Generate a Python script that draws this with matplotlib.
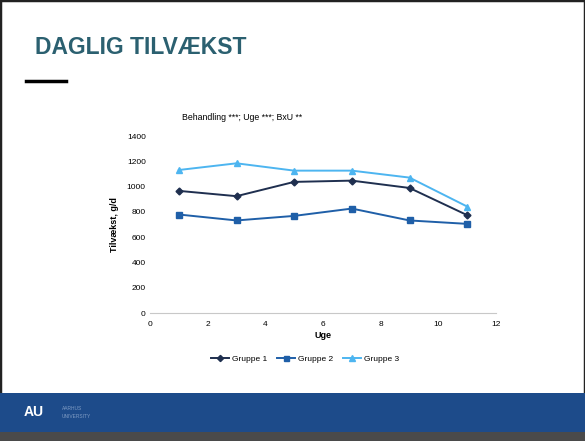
import matplotlib.pyplot as plt
from matplotlib.patches import Rectangle
from matplotlib.lines import Line2D

# data
uge = [1, 3, 5, 7, 9, 11]
gruppe1 = [966, 924, 1037, 1047, 989, 774]
gruppe2 = [779, 732, 768, 826, 732, 705]
gruppe3 = [1131, 1184, 1126, 1126, 1071, 842]
series_labels = ["Gruppe 1", "Gruppe 2", "Gruppe 3"]
x_ticks = [0, 2, 4, 6, 8, 10, 12]
y_ticks = [0, 200, 400, 600, 800, 1000, 1200, 1400]

plt.rcParams['font.family'] = ['Liberation Sans', 'DejaVu Sans']

fig = plt.figure(figsize=(5.85, 4.41), dpi=100)
fig.patch.set_facecolor('white')

# slide frame and footer band
fig.add_artist(Rectangle((0, 0), 1, 1, transform=fig.transFigure,
                         facecolor='none', edgecolor='#222222', lw=2.5))
fig.add_artist(Rectangle((0, 1 - 432 / 441), 1, 39 / 441, transform=fig.transFigure,
                         facecolor='#1d4b8a', edgecolor='none'))
fig.add_artist(Rectangle((0, 0), 1, 1 - 432 / 441, transform=fig.transFigure,
                         facecolor='#4a4a4a', edgecolor='none'))
fig.text(24 / 585, 1 - 412 / 441, "AU", color='white', fontsize=10, fontweight='bold',
         va='center', ha='left')
fig.text(62 / 585, 1 - 408 / 441, "AARHUS", color='#7f9cc4', fontsize=3.5, va='center')
fig.text(62 / 585, 1 - 416 / 441, "UNIVERSITY", color='#7f9cc4', fontsize=3.5, va='center')

# title and short bar below it
fig.text(35 / 585, 1 - 47 / 441, "DAGLIG TILVÆKST", color='#2b6070', fontsize=16.5,
         fontweight='bold', va='center', ha='left')
fig.add_artist(Line2D([26 / 585, 66 / 585], [1 - 81 / 441, 1 - 81 / 441],
                      transform=fig.transFigure, color='black', lw=2.5))

ax = fig.add_axes([150 / 585, 1 - 313 / 441, 346 / 585, 177 / 441])
ax.plot(uge, gruppe1, color='#1f2f4f', marker='D', ms=3.5, lw=1.4, label=series_labels[0])
ax.plot(uge, gruppe2, color='#1f5fa8', marker='s', ms=4, lw=1.4, label=series_labels[1])
ax.plot(uge, gruppe3, color='#4db5f0', marker='^', ms=4.5, lw=1.4, label=series_labels[2])

ax.set_xlim(0, 12)
ax.set_ylim(0, 1400)
ax.set_xticks(x_ticks)
ax.set_yticks(y_ticks)
ax.tick_params(labelsize=6, length=0)
ax.tick_params(axis='x', pad=6)
ax.tick_params(axis='y', pad=3)
for s in ['top', 'right', 'left']:
    ax.spines[s].set_visible(False)
ax.spines['bottom'].set_color('#c8c8c8')
ax.spines['bottom'].set_linewidth(0.8)
ax.set_xlabel("Uge", fontsize=6.5, fontweight='bold', labelpad=2)
ax.set_ylabel("Tilvækst, g/d", fontsize=6.5, fontweight='bold', labelpad=6)
ax.set_facecolor('none')

fig.text(182 / 585, 1 - 117 / 441, "Behandling ***; Uge ***; BxU **", fontsize=6.3,
         va='center', ha='left')

fig.legend(loc='center', bbox_to_anchor=(305 / 585, 1 - 359 / 441), ncol=3,
           fontsize=6, frameon=False, handlelength=2.2, handletextpad=0.3,
           columnspacing=1.2, markerscale=0.9)

fig.savefig("out.png", dpi=100)
